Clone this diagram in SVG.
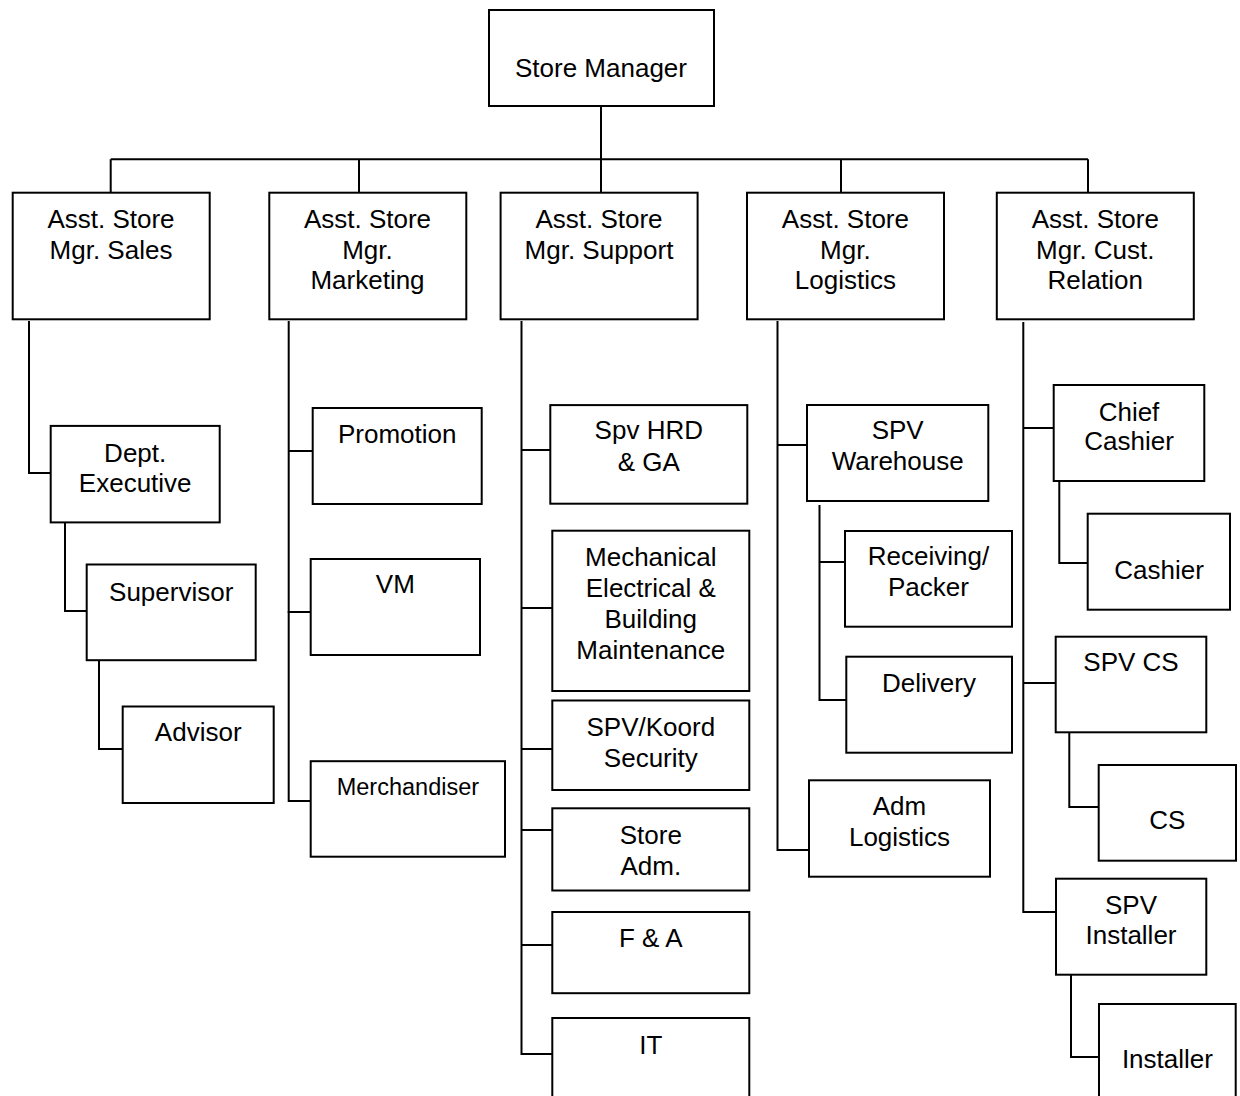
<svg xmlns="http://www.w3.org/2000/svg" width="1240" height="1096" viewBox="0 0 1240 1096">
<style>
.b{fill:#fff;stroke:#000;stroke-width:2}
.t{font-family:"Liberation Sans",Arial,sans-serif;font-size:26px;fill:#000;text-anchor:middle}
.s{font-size:23.5px}
.c{fill:none;stroke:#000;stroke-width:2}
</style>
<rect width="1240" height="1096" fill="#fff"/>
<g id="connectors" class="c">
<path d="M601,106V193M110.7,159.3H1088M110.7,159.3V193M359,159.3V193M841,159.3V193M1088,159.3V193"/>
<path d="M29,321V473H51M65,522V611H87M99,660V749H123"/>
<path d="M288.7,321V802M288.7,451H313M287.5,612H311M288,801H311"/>
<path d="M521.5,321V1055M521.5,450H550M521.5,608H552M521.5,749H552M521.5,830H552M521.5,945H552M521.5,1054H552"/>
<path d="M777.5,321V850H809M777.5,445H807M819.5,505V700H846M819.5,562H845"/>
<path d="M1023.3,322V912H1056M1023.3,428H1054M1023.3,683H1056M1059.3,478V563H1088M1069.3,733V807H1099M1071,975V1057H1099"/>
</g>
<g id="store-manager"><rect class="b" x="489" y="10" width="225" height="96"/><text class="t" x="601" y="77">Store Manager</text></g>
<g id="asm-sales"><rect class="b" x="12.7" y="192.7" width="197" height="126.6"/><text class="t" x="111" y="228">Asst. Store</text><text class="t" x="111" y="258.5">Mgr. Sales</text></g>
<g id="asm-marketing"><rect class="b" x="269.3" y="192.7" width="197" height="126.6"/><text class="t" x="367.5" y="228">Asst. Store</text><text class="t" x="367.5" y="258.5">Mgr.</text><text class="t" x="367.5" y="289">Marketing</text></g>
<g id="asm-support"><rect class="b" x="500.6" y="192.7" width="197" height="126.6"/><text class="t" x="599" y="228">Asst. Store</text><text class="t" x="599" y="258.5">Mgr. Support</text></g>
<g id="asm-logistics"><rect class="b" x="747" y="192.7" width="197" height="126.6"/><text class="t" x="845.4" y="228">Asst. Store</text><text class="t" x="845.4" y="258.5">Mgr.</text><text class="t" x="845.4" y="289">Logistics</text></g>
<g id="asm-cust"><rect class="b" x="996.8" y="192.7" width="197" height="126.6"/><text class="t" x="1095.3" y="228">Asst. Store</text><text class="t" x="1095.3" y="258.5">Mgr. Cust.</text><text class="t" x="1095.3" y="289">Relation</text></g>
<g id="dept-exec"><rect class="b" x="50.7" y="425.9" width="169" height="96.5"/><text class="t" x="135.2" y="462">Dept.</text><text class="t" x="135.2" y="492">Executive</text></g>
<g id="supervisor"><rect class="b" x="86.7" y="564.5" width="169" height="95.7"/><text class="t" x="171.2" y="600.6">Supervisor</text></g>
<g id="advisor"><rect class="b" x="122.7" y="706.5" width="151" height="96.5"/><text class="t" x="198.2" y="741">Advisor</text></g>
<g id="promotion"><rect class="b" x="312.7" y="408" width="169" height="96"/><text class="t" x="397.2" y="443">Promotion</text></g>
<g id="vm"><rect class="b" x="310.7" y="559" width="169.3" height="96"/><text class="t" x="395.3" y="593">VM</text></g>
<g id="merchandiser"><rect class="b" x="310.7" y="761.2" width="194.3" height="95.5"/><text class="t s" x="407.9" y="795.3">Merchandiser</text></g>
<g id="spv-hrd"><rect class="b" x="550.3" y="405.1" width="197" height="98.6"/><text class="t" x="648.8" y="439.4">Spv HRD</text><text class="t" x="648.8" y="471">&amp; GA</text></g>
<g id="mechanical"><rect class="b" x="552.3" y="530.7" width="197" height="160.3"/><text class="t" x="650.8" y="566">Mechanical</text><text class="t" x="650.8" y="597">Electrical &amp;</text><text class="t" x="650.8" y="628">Building</text><text class="t" x="650.8" y="659">Maintenance</text></g>
<g id="spv-security"><rect class="b" x="552.3" y="700.5" width="197" height="89.5"/><text class="t" x="650.8" y="736">SPV/Koord</text><text class="t" x="650.8" y="767">Security</text></g>
<g id="store-adm"><rect class="b" x="552.3" y="808.3" width="197" height="82.2"/><text class="t" x="650.8" y="843.5">Store</text><text class="t" x="650.8" y="874.5">Adm.</text></g>
<g id="fa"><rect class="b" x="552.3" y="912" width="197" height="81.2"/><text class="t" x="650.8" y="947">F &amp; A</text></g>
<g id="it"><rect class="b" x="552.3" y="1018" width="197" height="100"/><text class="t" x="650.8" y="1053.5">IT</text></g>
<g id="spv-warehouse"><rect class="b" x="807" y="405" width="181.3" height="96"/><text class="t" x="897.7" y="439">SPV</text><text class="t" x="897.7" y="470">Warehouse</text></g>
<g id="receiving"><rect class="b" x="845" y="531" width="167" height="95.7"/><text class="t" x="928.5" y="565">Receiving/</text><text class="t" x="928.5" y="596">Packer</text></g>
<g id="delivery"><rect class="b" x="846.3" y="656.7" width="165.7" height="96"/><text class="t" x="929" y="691.7">Delivery</text></g>
<g id="adm-logistics"><rect class="b" x="809" y="780.3" width="181" height="96.4"/><text class="t" x="899.5" y="815">Adm</text><text class="t" x="899.5" y="845.5">Logistics</text></g>
<g id="chief-cashier"><rect class="b" x="1053.7" y="385" width="150.6" height="96"/><text class="t" x="1129" y="420.7">Chief</text><text class="t" x="1129" y="450">Cashier</text></g>
<g id="cashier"><rect class="b" x="1087.7" y="513.7" width="142.3" height="96"/><text class="t" x="1159" y="579.3">Cashier</text></g>
<g id="spv-cs"><rect class="b" x="1055.7" y="636.7" width="150.6" height="95.6"/><text class="t" x="1131" y="671">SPV CS</text></g>
<g id="cs"><rect class="b" x="1098.7" y="765" width="137.3" height="95.7"/><text class="t" x="1167.4" y="829.3">CS</text></g>
<g id="spv-installer"><rect class="b" x="1056" y="878.7" width="150.3" height="96"/><text class="t" x="1131" y="914">SPV</text><text class="t" x="1131" y="944">Installer</text></g>
<g id="installer"><rect class="b" x="1099" y="1004" width="136.7" height="100"/><text class="t" x="1167.4" y="1068.3">Installer</text></g>
</svg>
